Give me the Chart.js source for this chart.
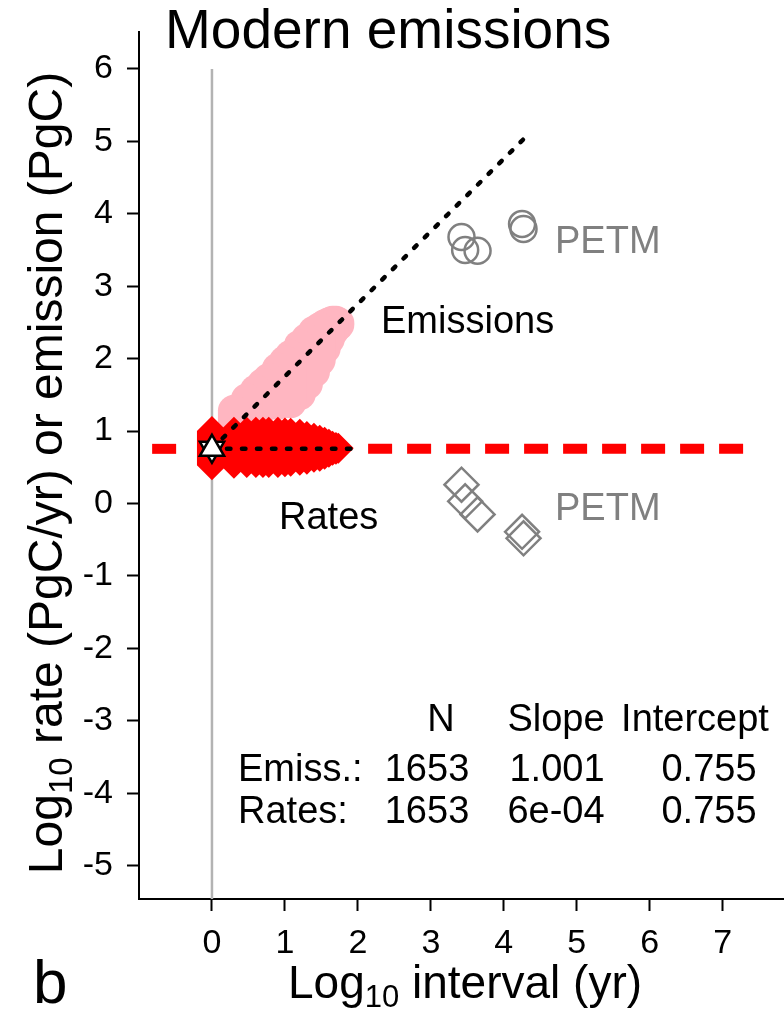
<!DOCTYPE html>
<html>
<head>
<meta charset="utf-8">
<script src="https://cdn.jsdelivr.net/npm/chart.js@4.4.1/dist/chart.umd.min.js"></script>
<style>
  html, body { margin: 0; padding: 0; background: #fff; }
</style>
</head>
<body>
<canvas id="chart" width="784" height="1014"></canvas>
<script>
// modern emissions: log10 interval (yr) of each column of rates (1..54 yr)
const rateLogInterval = [0, 0.301, 0.477, 0.602, 0.699, 0.778, 0.903, 1.0, 1.079, 1.204, 1.301, 1.398, 1.477, 1.544, 1.602, 1.653, 1.699, 1.732];
// log10 rate (PgC/yr), top and bottom of each column
const rateHi = [1.00, 0.99, 0.99, 0.99, 0.99, 0.99, 0.99, 0.98, 0.976, 0.962, 0.934, 0.907, 0.879, 0.852, 0.824, 0.796, 0.782, 0.769];
const rateLo = [0.53, 0.55, 0.56, 0.56, 0.56, 0.56, 0.56, 0.57, 0.576, 0.589, 0.603, 0.631, 0.645, 0.672, 0.70, 0.727, 0.741, 0.755];
// emissions, visible columns (2..54 yr) and log10 emission (PgC) top and bottom
const emisLogInterval = [0.301, 0.477, 0.602, 0.699, 0.778, 0.903, 1.0, 1.079, 1.204, 1.301, 1.398, 1.477, 1.544, 1.602, 1.653, 1.699, 1.732];
const emisHi = [1.28, 1.44, 1.56, 1.65, 1.72, 1.86, 1.96, 2.04, 2.18, 2.27, 2.37, 2.42, 2.46, 2.49, 2.51, 2.51, 2.49];
const emisLo = [0.85, 1.20, 1.25, 1.35, 1.37, 1.38, 1.40, 1.40, 1.51, 1.65, 1.82, 1.98, 2.14, 2.27, 2.38, 2.44, 2.47];

// PETM
const petmLogInterval = [3.42, 3.47, 3.64, 4.25, 4.27];
const petmEmission = [3.68, 3.50, 3.49, 3.86, 3.79];
const petmRate = [0.26, 0.03, -0.15, -0.39, -0.48];

// fits and reference
const emisFitX = [0, 4.27];
const emisFitY = [0.755, 5.03];
const rateFitX = [0, 1.98];
const rateFitY = [0.755, 0.756];
const modernRate = 0.755;
const refLeftX = [-0.82, -0.49];
const refRightX = [2.14, 7.29];

const xTicks = [0, 1, 2, 3, 4, 5, 6, 7];
const yTicks = [-5, -4, -3, -2, -1, 0, 1, 2, 3, 4, 5, 6];

const FONT = "'Liberation Sans', Arial, Helvetica, sans-serif";

const datasets = [];

// grey zero line
datasets.push({
    data: [{x: 0, y: -5.46}, {x: 0, y: 6}],
    showLine: true, borderColor: '#b3b3b3', borderWidth: 2.5, pointRadius: 0, order: 20
});

// red dashed modern rate
[refLeftX, refRightX].forEach(function (xr) {
    datasets.push({
        data: xr.map(function (x) { return {x: x, y: modernRate}; }),
        showLine: true, borderColor: '#ff0000', borderWidth: 10, borderDash: [24, 15],
        borderCapStyle: 'butt', pointRadius: 0, order: 19
    });
});

// emissions (pink)
emisLogInterval.forEach(function (x, i) {
    datasets.push({
        data: [{x: x, y: emisLo[i]}, {x: x, y: emisHi[i]}],
        showLine: true, borderColor: '#ffb6c1', borderWidth: 32, borderCapStyle: 'round',
        pointRadius: 0, order: 15
    });
});

// rates (red diamonds)
rateLogInterval.forEach(function (x, i) {
    datasets.push({
        data: [{x: x, y: rateLo[i]}, {x: x, y: rateHi[i]}],
        showLine: true, borderColor: '#ff0000', borderWidth: 30, borderCapStyle: 'butt',
        pointStyle: 'rectRot', pointRadius: 15, pointBackgroundColor: '#ff0000',
        pointBorderWidth: 0, order: 12
    });
});

// regression lines
[[emisFitX, emisFitY], [rateFitX, rateFitY]].forEach(function (f) {
    datasets.push({
        data: f[0].map(function (x, i) { return {x: x, y: f[1][i]}; }),
        showLine: true, borderColor: '#000', borderWidth: 4.5, borderDash: [3.5, 11.5],
        borderCapStyle: 'round', pointRadius: 0, order: 8
    });
});

// modern point (triangles)
datasets.push({
    data: [{x: 0, y: modernRate}], pointStyle: 'triangle', rotation: 180, pointRadius: 14,
    pointBackgroundColor: '#fff', pointBorderColor: '#000', pointBorderWidth: 2.5, order: 6
});
datasets.push({
    data: [{x: 0, y: modernRate}], pointStyle: 'triangle', pointRadius: 14,
    pointBackgroundColor: '#fff', pointBorderColor: '#000', pointBorderWidth: 2.5, order: 5
});

// PETM circles and diamonds
datasets.push({
    data: petmLogInterval.map(function (x, i) { return {x: x, y: petmEmission[i]}; }),
    pointStyle: 'circle', pointRadius: 13, pointBackgroundColor: 'rgba(0,0,0,0)',
    pointBorderColor: '#808080', pointBorderWidth: 2.5, order: 4
});
datasets.push({
    data: petmLogInterval.map(function (x, i) { return {x: x, y: petmRate[i]}; }),
    pointStyle: 'rectRot', pointRadius: 17, pointBackgroundColor: 'rgba(0,0,0,0)',
    pointBorderColor: '#808080', pointBorderWidth: 2.5, order: 4
});

function drawLogLabel(c, rest, size, x, y) {
    const main = size + 'px ' + FONT;
    const sub = Math.round(size * 0.68) + 'px ' + FONT;
    c.font = main;
    const w1 = c.measureText('Log').width;
    const w3 = c.measureText(rest).width;
    c.font = sub;
    const w2 = c.measureText('10').width;
    const x0 = x - (w1 + w2 + w3) / 2;
    c.textAlign = 'left';
    c.font = main;
    c.fillText('Log', x0, y);
    c.font = sub;
    c.fillText('10', x0 + w1, y + size * 0.2);
    c.font = main;
    c.fillText(rest, x0 + w1 + w2, y);
}

const textPlugin = {
    id: 'texts',
    afterDraw: function (chart) {
        const c = chart.ctx;
        c.save();
        c.fillStyle = '#000';
        c.textBaseline = 'alphabetic';

        c.textAlign = 'left';
        c.font = '55px ' + FONT;
        c.fillText('Modern emissions', 165, 48);

        c.font = '62px ' + FONT;
        c.fillText('b', 33, 1003);

        drawLogLabel(c, ' interval (yr)', 46, 465, 998);

        c.save();
        c.translate(62, 473);
        c.rotate(-Math.PI / 2);
        drawLogLabel(c, ' rate (PgC/yr) or emission (PgC)', 48, 0, 0);
        c.restore();

        c.font = '38px ' + FONT;
        c.textAlign = 'left';
        c.fillText('Emissions', 381, 333);
        c.fillText('Rates', 279, 529);
        c.fillStyle = '#808080';
        c.fillText('PETM', 555, 253);
        c.fillText('PETM', 555, 520);

        c.fillStyle = '#000';
        c.textAlign = 'center';
        c.fillText('N', 441, 731);
        c.fillText('Slope', 556, 731);
        c.fillText('Intercept', 695, 731);
        c.fillText('1653', 427, 781);
        c.fillText('1.001', 557, 781);
        c.fillText('0.755', 709, 781);
        c.fillText('1653', 427, 823);
        c.fillText('6e-04', 556, 823);
        c.fillText('0.755', 709, 823);
        c.textAlign = 'left';
        c.fillText('Emiss.:', 238, 781);
        c.fillText('Rates:', 238, 823);
        c.restore();
    }
};

new Chart(document.getElementById('chart'), {
    type: 'scatter',
    data: { datasets: datasets },
    options: {
        responsive: false,
        animation: false,
        devicePixelRatio: 1,
        layout: { autoPadding: false, padding: { top: 32, right: 0, left: 0, bottom: 0 } },
        plugins: { legend: { display: false }, tooltip: { enabled: false }, title: { display: false } },
        scales: {
            x: {
                type: 'linear', min: -1.0, max: 7.84,
                border: { color: '#000', width: 2 },
                grid: { drawOnChartArea: false, drawTicks: true, tickLength: 12, tickWidth: 2, tickColor: '#000' },
                ticks: { font: { family: FONT, size: 34 }, color: '#000', padding: 12, maxRotation: 0, autoSkip: false },
                afterBuildTicks: function (s) { s.ticks = xTicks.map(function (v) { return {value: v}; }); },
                afterFit: function (s) { s.height = 115; s.paddingLeft = 0; s.paddingRight = 0; }
            },
            y: {
                type: 'linear', min: -5.46, max: 6.51,
                border: { color: '#000', width: 2 },
                grid: { drawOnChartArea: false, drawTicks: true, tickLength: 12, tickWidth: 2, tickColor: '#000' },
                ticks: { font: { family: FONT, size: 34 }, color: '#000', padding: 14, autoSkip: false },
                afterBuildTicks: function (s) { s.ticks = yTicks.map(function (v) { return {value: v}; }); },
                afterFit: function (s) { s.width = 139; s.paddingTop = 0; s.paddingBottom = 0; }
            }
        }
    },
    plugins: [textPlugin]
});
</script>
</body>
</html>
